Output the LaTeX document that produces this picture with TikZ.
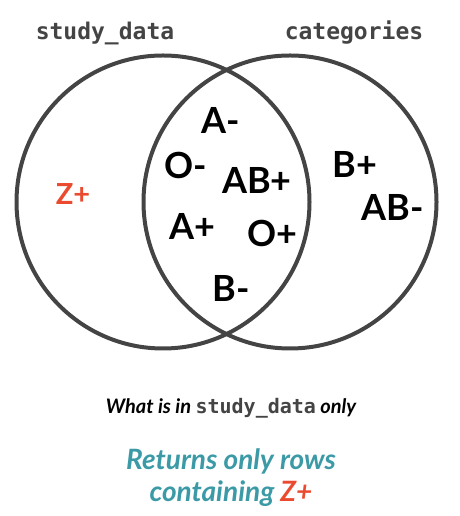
\documentclass[tikz,border=0pt]{standalone}
\usepackage{fontspec}
\setmainfont{Lato}
\setmonofont{DejaVu Sans Mono}
\usepackage{tikz}
\usetikzlibrary{positioning}
\definecolor{ringgray}{HTML}{444444}
\definecolor{zred}{HTML}{EA4B2F}
\definecolor{tealtxt}{HTML}{3B9AA6}

\begin{document}
\begin{tikzpicture}[
    x=1pt, y=1pt,
    setring/.style={
		circle,
		draw=ringgray,
		line width=4pt,
		minimum size=293pt,
		inner sep=0pt
	},
	tname/.style={
		font=\fontsize{23}{26}\selectfont\ttfamily\bfseries,
		text=ringgray
	},
	blood/.style={
		font=\fontsize{36}{40}\selectfont\bfseries
	}
  ]
  \useasboundingbox (0,0) rectangle (459,516);

  % the two sets
  \node [setring] (study) at (163,314) {};
  \node [setring] (cats) at (290,314) {};

  % set names
  \node [tname] (studyname) at (105,483) {study\_data};
  \node [tname] (catsname) at (354,483) {categories};

  % only in study_data
  \node [blood, font=\fontsize{29}{32}\selectfont\bfseries, text=zred] (zplus) at (73,322) {Z+};

  % in both
  \node [blood] (aminus) at (221,396) {A-};
  \node [blood] (ominus) at (186,351) {O-};
  \node [blood] (abplus) at (257,336) {AB+};
  \node [blood] (aplus) at (192,290) {A+};
  \node [blood] (oplus) at (272,283) {O+};
  \node [blood] (bminus) at (231,228) {B-};

  % only in categories
  \node [blood] (bplus) at (355,352) {B+};
  \node [blood] (abminus) at (393,309) {AB-};

  % captions
  \node [font=\fontsize{20}{24}\selectfont\bfseries\itshape] (question) at (231,108)
   {What is in \textcolor{ringgray}{\upshape\ttfamily study\_data} only};
  \node [font=\fontsize{28}{32}\selectfont\bfseries\itshape, text=tealtxt, align=center,
         below=24pt of question] (answer)
   {Returns only rows\\containing \textcolor{zred}{Z+}};

\end{tikzpicture}
\end{document}
